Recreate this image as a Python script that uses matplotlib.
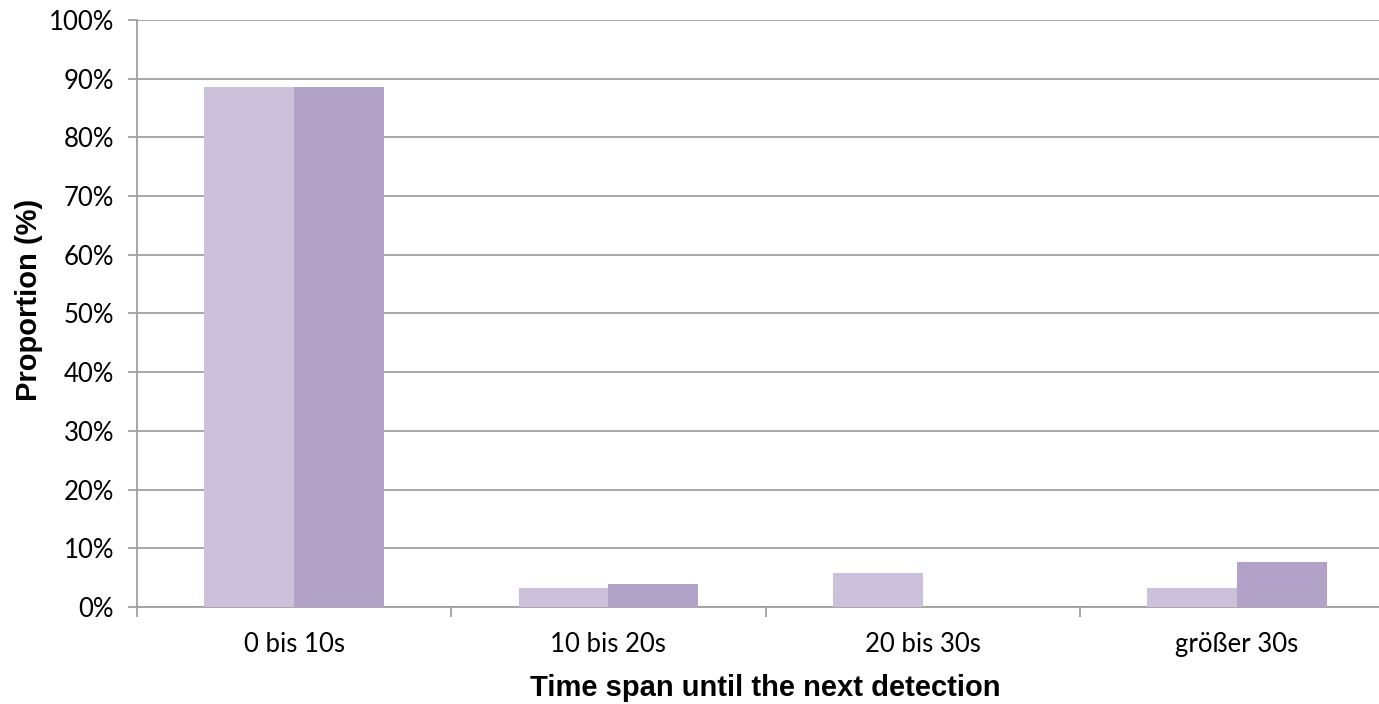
import matplotlib.pyplot as plt
import numpy as np
from matplotlib.ticker import FixedLocator, PercentFormatter

categories = ["0 bis 10s", "10 bis 20s", "20 bis 30s", "größer 30s"]
series_a = [88.5, 3.2, 5.8, 3.2]
series_b = [88.5, 3.9, 0.0, 7.6]

fig = plt.figure(figsize=(13.79, 7.04), dpi=100)
ax = fig.add_axes([0.0993, 0.1378, 1.011 - 0.0993, 0.8338])

x = np.arange(len(categories))
w = 0.286
ax.bar(x - w / 2, series_a, w, color="#CCC1DA", zorder=3)
ax.bar(x + w / 2, series_b, w, color="#B3A2C7", zorder=3)

ax.set_xlim(-0.5, len(categories) - 0.5)
ax.set_ylim(0, 100)
ax.set_yticks(np.arange(0, 101, 10))
ax.yaxis.set_major_formatter(PercentFormatter(decimals=0))
ax.grid(axis="y", color="#A0A0A0", linewidth=1.3, zorder=0)

ax.set_xticks(x)
ax.set_xticklabels(categories, fontfamily="Lato", fontsize=18.5)
ax.xaxis.set_minor_locator(FixedLocator(np.arange(-0.5, len(categories), 1)))
ax.tick_params(axis="x", which="major", length=0, pad=18)
ax.tick_params(axis="x", which="minor", length=7, width=1.3, color="#A0A0A0")
ax.tick_params(axis="y", length=6.5, width=1.3, color="#A0A0A0", pad=10, labelsize=18.5)
for lab in ax.get_yticklabels():
    lab.set_fontfamily("Lato")

for side in ["top", "right"]:
    ax.spines[side].set_visible(False)
for side in ["left", "bottom"]:
    ax.spines[side].set_color("#A0A0A0")
    ax.spines[side].set_linewidth(1.3)

ax.set_xlabel("Time span until the next detection", fontfamily="Liberation Sans",
              fontweight="bold", fontsize=21, labelpad=12)
ax.set_ylabel("Proportion (%)", fontfamily="Liberation Sans",
              fontweight="bold", fontsize=21)
ax.yaxis.set_label_coords(-0.0748, 0.523)

fig.savefig("out.png", dpi=100)
